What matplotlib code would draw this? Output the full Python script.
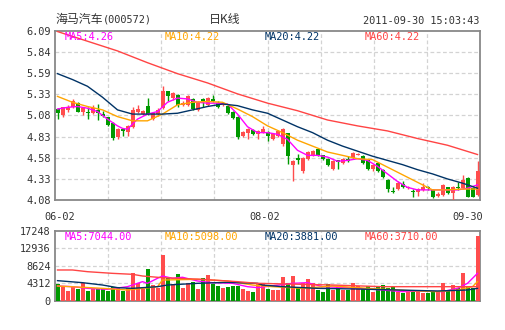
import matplotlib
matplotlib.use("Agg")
import matplotlib.pyplot as plt
import matplotlib.transforms as mtransforms
import numpy as np

# ---- data (000572, 2011-06-02 .. 2011-09-30) ----
opens = [5.16, 5.09, 5.15, 5.19, 5.23, 5.12, 5.13, 5.11, 5.15, 5.10,
         5.06, 5.00, 4.83, 4.92, 4.89, 4.95, 5.13, 5.10, 5.20, 5.04,
         5.10, 5.17, 5.375, 5.29, 5.33, 5.21, 5.21, 5.28, 5.15, 5.28,
         5.21, 5.28, 5.23, 5.21, 5.20, 5.13, 5.07, 4.84, 4.87, 4.91,
         4.86, 4.88, 4.89, 4.80, 4.84, 4.74, 4.87, 4.50, 4.58, 4.42,
         4.57, 4.61, 4.68, 4.61, 4.57, 4.45, 4.55, 4.52, 4.57, 4.58,
         4.62, 4.60, 4.55, 4.45, 4.52, 4.44, 4.32, 4.19, 4.21, 4.27,
         4.22, 4.19, 4.17, 4.20, 4.23, 4.20, 4.13, 4.14, 4.23, 4.16,
         4.24, 4.22, 4.34, 4.22, 4.14]
closes = [5.11, 5.18, 5.19, 5.25, 5.13, 5.17, 5.11, 5.17, 5.11, 5.08,
          4.97, 4.82, 4.92, 4.90, 4.96, 5.15, 5.16, 5.14, 5.10, 5.11,
          5.15, 5.375, 5.32, 5.35, 5.21, 5.23, 5.32, 5.16, 5.24, 5.26,
          5.29, 5.26, 5.19, 5.23, 5.11, 5.05, 4.83, 4.89, 4.92, 4.86,
          4.90, 4.92, 4.84, 4.86, 4.90, 4.92, 4.60, 4.54, 4.56, 4.58,
          4.65, 4.66, 4.61, 4.57, 4.50, 4.54, 4.53, 4.57, 4.54, 4.64,
          4.63, 4.52, 4.45, 4.50, 4.42, 4.35, 4.21, 4.18, 4.28, 4.23,
          4.24, 4.18, 4.21, 4.24, 4.22, 4.11, 4.15, 4.26, 4.16, 4.24,
          4.22, 4.32, 4.12, 4.12, 4.42]
highs = [5.17, 5.19, 5.21, 5.28, 5.24, 5.18, 5.19, 5.21, 5.22, 5.14,
         5.07, 5.01, 4.93, 4.93, 4.97, 5.18, 5.21, 5.15, 5.29, 5.12,
         5.17, 5.43, 5.38, 5.36, 5.34, 5.25, 5.33, 5.29, 5.25, 5.29,
         5.30, 5.33, 5.25, 5.24, 5.21, 5.14, 5.08, 4.90, 4.93, 4.92,
         4.91, 4.96, 4.90, 4.87, 4.91, 4.93, 4.88, 4.55, 4.63, 4.59,
         4.66, 4.67, 4.69, 4.62, 4.58, 4.55, 4.56, 4.58, 4.60, 4.65,
         4.64, 4.61, 4.56, 4.51, 4.53, 4.45, 4.33, 4.24, 4.30, 4.30,
         4.25, 4.21, 4.22, 4.28, 4.25, 4.21, 4.17, 4.27, 4.24, 4.25,
         4.29, 4.38, 4.35, 4.23, 4.54]
lows = [5.04, 5.07, 5.12, 5.17, 5.12, 5.09, 5.04, 5.10, 5.03, 5.06,
        4.96, 4.79, 4.81, 4.84, 4.84, 4.93, 5.11, 5.09, 5.09, 5.03,
        5.08, 5.16, 5.26, 5.27, 5.19, 5.20, 5.20, 5.15, 5.14, 5.19,
        5.20, 5.24, 5.17, 5.20, 5.10, 5.04, 4.80, 4.83, 4.80, 4.85,
        4.81, 4.87, 4.78, 4.79, 4.83, 4.72, 4.51, 4.31, 4.51, 4.40,
        4.56, 4.60, 4.60, 4.55, 4.48, 4.44, 4.45, 4.51, 4.53, 4.57,
        4.61, 4.51, 4.44, 4.42, 4.41, 4.34, 4.17, 4.16, 4.20, 4.22,
        4.21, 4.12, 4.13, 4.19, 4.20, 4.10, 4.11, 4.13, 4.15, 4.08,
        4.20, 4.21, 4.11, 4.11, 4.13]
volumes = [4130, 3470, 2480, 3470, 2890, 4300, 2480, 3220, 2810, 3060,
           2390, 3470, 3060, 2480, 3060, 6930, 4460, 2810, 7850, 3880,
           3060, 11310, 5530, 4050, 6600, 3220, 4460, 4540, 2890, 5530,
           6360, 4130, 3630, 3140, 3470, 3630, 3710, 2890, 2480, 2230,
           4300, 4130, 2890, 2640, 2640, 5940, 4460, 6110, 3220, 4460,
           5280, 4300, 2640, 2230, 4130, 2640, 3470, 2640, 2640, 4460,
           3630, 2890, 3710, 2230, 3710, 3880, 3220, 3470, 2230, 1980,
           2230, 2480, 2390, 1820, 1980, 2230, 2390, 4460, 2390, 3880,
           3060, 6930, 3630, 3220, 16090]

# moving averages as drawn (candle index, value)
ma5_idx = [0, 2, 4, 6, 8, 10, 12, 13, 14, 16, 18, 20, 22, 24, 26, 28, 30, 32, 34, 36,
           38, 40, 42, 44, 46, 48, 50, 52, 54, 56, 58, 60, 62, 64, 66, 68, 70, 72, 74,
           76, 78, 80, 82, 84]
ma5_val = [5.16, 5.18, 5.19, 5.17, 5.13, 5.04, 4.96, 4.93, 4.92, 5.04, 5.10, 5.13, 5.24,
           5.29, 5.28, 5.24, 5.23, 5.23, 5.22, 5.10, 4.95, 4.88, 4.88, 4.86, 4.80, 4.67,
           4.61, 4.61, 4.59, 4.54, 4.55, 4.57, 4.55, 4.48, 4.39, 4.30, 4.23, 4.20, 4.20,
           4.20, 4.20, 4.20, 4.22, 4.26]
ma_step_idx = list(range(0, 85, 3))
ma10_val = [5.31, 5.24, 5.19, 5.15, 5.07, 5.02, 5.02, 5.10, 5.21, 5.24, 5.25, 5.24, 5.16,
            5.07, 4.96, 4.88, 4.79, 4.72, 4.65, 4.61, 4.57, 4.56, 4.47, 4.38, 4.29, 4.20,
            4.20, 4.21, 4.21]
ma20_val = [5.58, 5.51, 5.43, 5.30, 5.15, 5.10, 5.10, 5.10, 5.11, 5.15, 5.19, 5.22, 5.20,
            5.15, 5.11, 5.03, 4.95, 4.88, 4.79, 4.72, 4.66, 4.60, 4.55, 4.50, 4.44, 4.39,
            4.33, 4.28, 4.22]
ma60_idx = [0, 6, 12, 18, 24, 30, 36, 42, 48, 54, 60, 66, 72, 78, 84]
ma60_val = [6.08, 5.965, 5.85, 5.71, 5.58, 5.47, 5.34, 5.23, 5.14, 5.03, 4.96, 4.90,
            4.81, 4.73, 4.62]

vma5_idx = [0, 3, 6, 10, 14, 17, 18, 20, 21, 23, 25, 28, 31, 35, 38, 40, 47, 50, 53, 58,
            65, 69, 73, 77, 80, 82, 84]
vma5_val = [3640, 3470, 3060, 2810, 3470, 4710, 4300, 5540, 6110, 5540, 5800, 4880, 4460,
            4300, 3470, 3230, 4300, 4460, 3470, 3230, 2650, 2240, 2400, 2240, 3060, 4300,
            6770]
vma10_idx = [0, 9, 14, 20, 21, 28, 34, 39, 43, 49, 55, 62, 70, 76, 80, 83, 84]
vma10_val = [3640, 3060, 2650, 3470, 5120, 5290, 4880, 3880, 3470, 3060, 3640, 3060, 2510,
             2240, 2650, 3470, 4710]
vma20_idx = [0, 5, 9, 12, 15, 20, 22, 28, 34, 40, 41, 45, 52, 60, 68, 76, 82, 84]
vma20_val = [4960, 4460, 3880, 3230, 3060, 3470, 3880, 4300, 4540, 4300, 3880, 3470, 3060,
             2890, 2650, 2400, 2650, 3060]
vma60_idx = [0, 3, 6, 11, 15, 17, 21, 29, 36, 40, 55, 65, 84]
vma60_val = [7600, 7600, 7180, 6770, 6530, 6110, 5690, 5290, 4710, 4300, 3880, 3470, 3470]

price_ticks = ["4.08", "4.33", "4.58", "4.83", "5.08", "5.33", "5.59", "5.84", "6.09"]
vol_ticks = ["0", "4312", "8624", "12936", "17248"]
date_labels = [(0, "06-02"), (42, "08-02"), (84, "09-30")]
price_legend = ["MA5:4.26", "MA10:4.22", "MA20:4.22", "MA60:4.22"]
vol_legend = ["MA5:7044.00", "MA10:5098.00", "MA20:3881.00", "MA60:3710.00"]

# ---- styling ----
W, H = 505, 330
RED, GREEN = "#ff4d4d", "#009900"
MA_COLORS = ["#ff00ff", "#ffa500", "#003366", "#ff4444"]
TXT = "#333333"
MONO = "DejaVu Sans Mono"
CJK = "Noto Sans CJK SC"
FS = 7.4


def fx(x):
    return x / W


def fy(y):
    return 1 - y / H


fig = plt.figure(figsize=(W / 100, H / 100), dpi=100)
ax = fig.add_axes([fx(55), fy(200), fx(480) - fx(55), fy(30.7) - fy(200)])
axv = fig.add_axes([fx(55), fy(300.7), fx(480) - fx(55), fy(231) - fy(300.7)])

n = len(closes)
idx = np.arange(n)
up = np.array(closes) >= np.array(opens)
colors = [RED if u else GREEN for u in up]

# candles
ax.vlines(idx, lows, highs, colors=colors, lw=1, zorder=3)
body_low = np.minimum(opens, closes)
body_h = np.maximum(np.abs(np.array(closes) - np.array(opens)), 0.006)
ax.bar(idx, body_h, bottom=body_low, width=0.8, color=colors, lw=0, zorder=4)

for xs, ys, c in [(ma5_idx, ma5_val, MA_COLORS[0]), (ma_step_idx, ma10_val, MA_COLORS[1]),
                  (ma_step_idx, ma20_val, MA_COLORS[2]), (ma60_idx, ma60_val, MA_COLORS[3])]:
    ax.plot(xs, ys, color=c, lw=1, zorder=5)

# volume
axv.bar(idx, volumes, width=0.8, color=colors, lw=0, zorder=3)
for xs, ys, c in [(vma5_idx, vma5_val, MA_COLORS[0]), (vma10_idx, vma10_val, MA_COLORS[1]),
                  (vma20_idx, vma20_val, MA_COLORS[2]), (vma60_idx, vma60_val, MA_COLORS[3])]:
    axv.plot(xs, ys, color=c, lw=1, zorder=4)

vgrid = [-0.5 + k * n / 8 for k in range(1, 8)]
for a, ticks, labels in [(ax, np.linspace(4.08, 6.09, 9), price_ticks),
                         (axv, np.linspace(0, 17248, 5), vol_ticks)]:
    a.set_xlim(-0.5, n - 0.5)
    a.set_ylim(ticks[0], ticks[-1])
    a.set_yticks(ticks)
    a.set_yticklabels(labels, family=MONO, fontsize=FS, color=TXT)
    a.set_xticks([])
    a.tick_params(length=0, pad=3)
    for t in ticks[1:-1]:
        a.axhline(t, color="#d3d3d3", lw=0.9, ls=(0, (3, 2)), zorder=1)
    for v in vgrid:
        a.axvline(v, color="#d3d3d3", lw=0.9, ls=(0, (3, 2)), zorder=1)
    for s in a.spines.values():
        s.set_color("#888888")
        s.set_linewidth(1.3)

# legends inside panels
for k in range(4):
    fig.text(fx(65 + 100 * k), fy(37), price_legend[k], color=MA_COLORS[k],
             family=MONO, fontsize=FS, va="center")
    fig.text(fx(65 + 100 * k), fy(237), vol_legend[k], color=MA_COLORS[k],
             family=MONO, fontsize=FS, va="center")

# header
fig.text(fx(55), fy(19.5), "海马汽车", family=CJK, fontsize=8.6, color=TXT, va="center")
fig.text(fx(103), fy(20), "(000572)", family=MONO, fontsize=FS, color=TXT, va="center")
fig.text(fx(225), fy(19.5), "日K线", family=CJK, fontsize=8.6, color=TXT, va="center",
         ha="center")
fig.text(fx(479.5), fy(21.5), "2011-09-30 15:03:43", family=MONO, fontsize=FS, color=TXT,
         va="center", ha="right")

# date labels under the price panel
trans = mtransforms.blended_transform_factory(ax.transData, fig.transFigure)
label_shift = {0: 0.4, 42: -0.5, 84: 1.1}
for i, lab in date_labels:
    ha = "right" if i == n - 1 else "center"
    ax.text(i + label_shift.get(i, 0), fy(217.5), lab, transform=trans, family=MONO,
            fontsize=FS, color=TXT, ha=ha, va="center", clip_on=False)

fig.savefig("out.png", dpi=100)
